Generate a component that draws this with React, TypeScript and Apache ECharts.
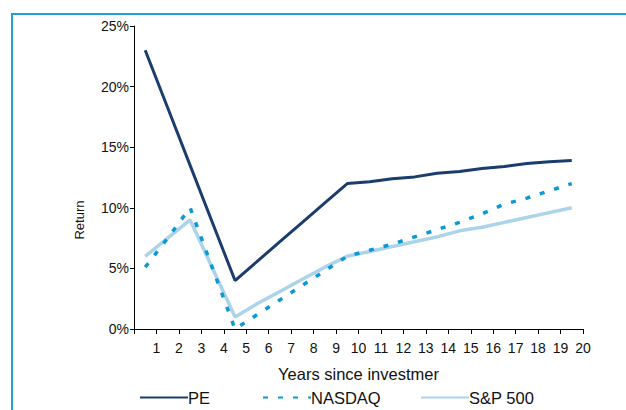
import React, { useEffect, useRef } from "react";
import * as echarts from "echarts";

const years = [1, 2, 3, 4, 5, 6, 7, 8, 9, 10, 11, 12, 13, 14, 15, 16, 17, 18, 19, 20];
const peValues = [23, 18.25, 13.5, 8.75, 4, 5.6, 7.2, 8.8, 10.4, 12.0, 12.15, 12.4, 12.55, 12.85, 13.0, 13.25, 13.4, 13.65, 13.8, 13.9];
const nasdaqValues = [5.1, 7.5, 10, 5, 0, 1.2, 2.4, 3.6, 4.8, 6.0, 6.5, 7.0, 7.6, 8.2, 8.8, 9.5, 10.3, 10.8, 11.4, 12.0];
const spValues = [6, 7.5, 9, 5, 1, 2.1, 3.1, 4.1, 5.1, 6.0, 6.4, 6.8, 7.2, 7.6, 8.1, 8.4, 8.8, 9.2, 9.6, 10.0];
const yTicks = [0, 5, 10, 15, 20, 25];

const FONT = "'Liberation Sans', Arial, Helvetica, sans-serif";

function toPoints(vals: number[]) {
  return years.map((y, i) => [y - 0.5, vals[i]]);
}

export default function App() {
  const ref = useRef<HTMLDivElement>(null);
  useEffect(() => {
    if (!ref.current) return;
    const chart = echarts.init(ref.current, undefined, { renderer: "svg" });
    const legendBase = {
      top: 384,
      itemWidth: 48,
      itemHeight: 14,
      itemStyle: { opacity: 0 },
      textStyle: { fontFamily: FONT, fontSize: 16.5, color: "#111", padding: [0, 0, 0, -5] },
      selectedMode: false,
    };
    chart.setOption({
      animation: false,
      backgroundColor: "#fff",
      textStyle: { fontFamily: FONT },
      grid: { left: 134, right: 43, top: 26, bottom: 81 },
      xAxis: {
        type: "value",
        min: 0,
        max: 20,
        interval: 1,
        name: "Years since investmer",
        nameLocation: "middle",
        nameGap: 36,
        nameTextStyle: { fontFamily: FONT, fontSize: 16.5, color: "#111" },
        axisLine: { lineStyle: { color: "#000", width: 1 } },
        axisTick: { show: true, length: 5, lineStyle: { color: "#000" } },
        axisLabel: {
          fontFamily: FONT,
          fontSize: 14,
          color: "#111",
          margin: 12,
          formatter: (v: number) => (v === 0 ? "" : String(v)),
        },
        splitLine: { show: false },
      },
      yAxis: {
        type: "value",
        min: yTicks[0],
        max: yTicks[yTicks.length - 1],
        interval: 5,
        axisLine: { show: true, lineStyle: { color: "#000", width: 1 } },
        axisTick: { show: true, length: 4, lineStyle: { color: "#000" } },
        axisLabel: {
          fontFamily: FONT,
          fontSize: 14,
          color: "#111",
          margin: 5,
          formatter: (v: number) => v + "%",
        },
        splitLine: { show: false },
      },
      legend: [
        { ...legendBase, left: 134, data: ["PE"] },
        { ...legendBase, left: 257, data: ["NASDAQ"] },
        { ...legendBase, left: 415, data: ["S&P 500"] },
      ],
      graphic: [
        {
          type: "rect",
          shape: { x: 12, y: 14, width: 700, height: 500 },
          style: { fill: "none", stroke: "#22a0d8", lineWidth: 2 },
          silent: true,
          z: -1,
        },
        {
          type: "text",
          x: 79,
          y: 220,
          rotation: Math.PI / 2,
          style: {
            text: "Return",
            font: `13px ${FONT}`,
            fill: "#111",
            textAlign: "center",
            textVerticalAlign: "middle",
          },
        },
      ],
      series: [
        {
          name: "S&P 500",
          type: "line",
          data: toPoints(spValues),
          symbol: "none",
          lineStyle: { color: "#abd3ea", width: 3.5 },
          itemStyle: { color: "#abd3ea" },
          z: 2,
        },
        {
          name: "NASDAQ",
          type: "line",
          data: toPoints(nasdaqValues),
          symbol: "none",
          lineStyle: { color: "#0b98d4", width: 3.5, type: [5, 10] },
          itemStyle: { color: "#0b98d4" },
          z: 3,
        },
        {
          name: "PE",
          type: "line",
          data: toPoints(peValues),
          symbol: "none",
          lineStyle: { color: "#1b3d6d", width: 3 },
          itemStyle: { color: "#1b3d6d" },
          z: 4,
        },
      ],
    });
    return () => chart.dispose();
  }, []);
  return (
    <div
      ref={ref}
      style={{ position: "fixed", left: 0, top: 0, width: 626, height: 410, background: "#fff" }}
    />
  );
}
